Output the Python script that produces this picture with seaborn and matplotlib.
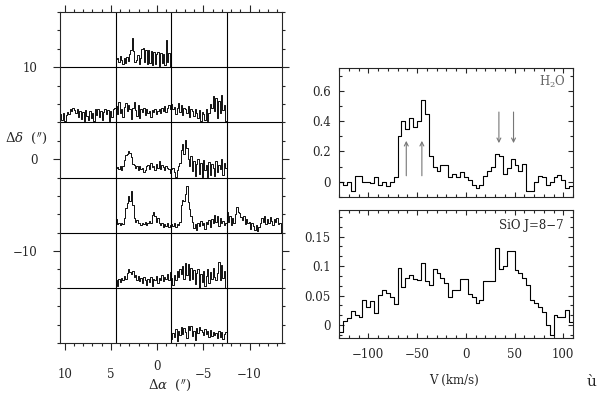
"""
Water maser / SiO spectra figure: offset map of spectra (left) and
averaged H2O and SiO J=8-7 profiles (right).
"""

import numpy as np
import matplotlib
matplotlib.use('Agg')
import matplotlib.pyplot as plt
import matplotlib.transforms as mtransforms
from matplotlib.ticker import MultipleLocator, FixedLocator, FuncFormatter
import seaborn as sns

# ── Data: averaged spectra ─────────────────────────────────────────────────────
VEL_EDGES = np.arange(-130, 111, 4)          # channel edges (km/s), 60 channels

H2O_T = [0.00, -0.02, 0.00, -0.06, 0.04, 0.04, 0.00, 0.00, -0.01, 0.03,
         -0.02, 0.00, -0.03, 0.00, 0.03, 0.30, 0.40, 0.35, 0.42, 0.36,
         0.40, 0.54, 0.45, 0.17, 0.10, 0.07, 0.11, 0.11, 0.03, 0.05,
         0.03, 0.065, 0.03, 0.015, -0.02, -0.04, -0.02, 0.04, 0.07, 0.10,
         0.185, 0.17, 0.05, 0.09, 0.15, 0.11, 0.07, 0.12, -0.06, -0.06,
         0.00, 0.04, 0.03, -0.02, 0.00, 0.03, 0.045, 0.015, -0.04, -0.03]

SIO_T = [-0.012, 0.006, 0.012, 0.023, 0.017, 0.014, 0.042, 0.031, 0.040, 0.021,
         0.051, 0.059, 0.054, 0.047, 0.036, 0.096, 0.065, 0.079, 0.085, 0.078,
         0.076, 0.105, 0.074, 0.068, 0.095, 0.088, 0.079, 0.071, 0.048, 0.059,
         0.059, 0.078, 0.078, 0.053, 0.048, 0.038, 0.042, 0.074, 0.074, 0.074,
         0.130, 0.095, 0.100, 0.125, 0.125, 0.093, 0.088, 0.079, 0.067, 0.042,
         0.037, 0.030, 0.022, 0.000, -0.017, 0.017, 0.014, 0.014, 0.025, 0.005]

# maser velocity markers (km/s) and arrow extents
ARROW_UP_V    = [-61, -45]
ARROW_UP_Y    = (0.04, 0.27)
ARROW_DOWN_V  = [34, 49]
ARROW_DOWN_Y  = (0.46, 0.255)

# ── Data: spectral map ─────────────────────────────────────────────────────────
CELL_RA   = [7.5, 1.5, -4.5, -10.5]          # cell centres, arcsec
CELL_DEC  = [13, 7, 1, -5, -11, -17]
CELL_SIZE = 6
DEC_TICKS = [10, 0, -10]

# intensities in arcsec above the cell floor
SPEC_R1_C2 = [0.9, 1.0, 0.6, 1.2, 0.8, 0.4, 1.0, 0.5, 1.1, 0.7, 1.4, 1.9, 3.2, 1.8,
              0.6, 0.8, 1.3, 0.4, 1.0, 2.0, 2.1, 0.6, 1.9, 0.3, 1.9, 0.5, 1.8, 0.2,
              1.7, 0.3, 1.4, 1.6, 0.1, 1.5, 0.5, 1.4, 0.2, 3.0, 0.6, 1.5, 0.0]
SPEC_R2_C1 = [0.9, 0.3, 1.0, 0.2, 0.8, 1.1, 0.9, 1.5, 1.2, 1.6, 1.3, 1.0, 1.4, 0.6,
              1.2, 0.4, 1.1, 0.2, 1.3, 0.7, 0.3, 1.2, 0.5, 1.0, 0.2, 1.4, 0.8, 1.5,
              0.6, 1.2, 0.3, 1.1, 1.5, 0.9, 1.3, 0.2, 1.2, 0.6, 1.4, 1.6]
SPEC_R2_C2 = [1.8, 0.9, 2.2, 1.0, 1.4, 0.6, 1.7, 2.1, 1.2, 1.9, 1.5, 0.4, 1.6, 2.2,
              1.3, 0.7, 1.9, 0.5, 1.5, 1.1, 1.6, 0.8, 1.4, 1.0, 1.2, 0.6, 1.3, 1.1,
              1.5, 0.9, 1.2, 1.4, 1.0, 1.6, 1.2, 1.8, 1.1, 1.6, 1.9, 1.4]
SPEC_R2_C3 = [2.0, 1.5, 1.7, 0.9, 1.6, 2.1, 1.1, 1.9, 0.8, 1.6, 1.4, 1.0, 1.8, 0.6,
              1.5, 1.2, 0.7, 1.4, 1.0, 0.5, 1.3, 0.2, 1.1, 0.9, 0.3, 1.5, 0.2, 1.0,
              2.0, 1.6, 2.9, 1.2, 2.7, 0.5, 2.3, 1.0, 3.0, 1.3, 1.9, 0.2]
SPEC_R3_C2 = [1.0, 1.1, 0.9, 1.2, 0.8, 1.3, 1.9, 2.4, 2.6, 2.9, 2.7, 2.2, 1.5, 1.4,
              1.0, 1.3, 0.8, 1.2, 0.9, 1.0, 0.6, 0.8, 1.2, 1.4, 0.9, 1.6, 1.1, 1.3,
              0.8, 1.5, 1.0, 1.8, 0.9, 1.4, 1.1, 0.8, 1.3, 1.0, 0.9, 0.5]
SPEC_R3_C3 = [0.9, 1.0, 0.6, 0.1, 0.8, 1.2, 1.6, 3.0, 3.6, 2.6, 4.1, 3.2, 2.0, 1.3,
              2.3, 0.7, 1.8, 0.2, 1.5, 2.0, 0.4, 1.6, 0.1, 1.9, 0.8, 1.4, 0.1, 1.7,
              0.3, 1.5, 1.0, 0.2, 1.8, 0.6, 1.4, 0.9, 2.0, 0.3, 1.6, 1.0]
SPEC_R4_C2 = [1.5, 0.9, 1.0, 0.8, 1.1, 0.9, 1.6, 2.7, 3.2, 4.0, 3.4, 4.5, 3.0, 1.6,
              1.2, 1.4, 1.0, 1.1, 0.8, 1.0, 0.9, 1.2, 0.8, 1.1, 1.3, 1.0, 1.9, 2.2,
              1.8, 1.2, 1.6, 1.0, 0.8, 1.1, 0.6, 0.9, 0.7, 1.0, 0.6, 0.8]
SPEC_R4_C3 = [0.9, 0.7, 1.0, 0.6, 0.9, 0.8, 1.2, 3.0, 3.6, 3.4, 4.2, 5.1, 3.3, 2.6,
              1.8, 1.2, 0.5, 0.9, 0.3, 1.1, 0.7, 1.3, 0.8, 1.0, 0.4, 1.2, 0.9, 1.4,
              0.6, 1.5, 1.0, 1.9, 1.2, 1.8, 0.7, 1.6, 1.1, 1.3, 0.8, 1.0]
SPEC_R4_C4 = [2.3, 1.2, 1.8, 0.8, 1.6, 1.0, 2.0, 2.8, 2.3, 2.1, 1.7, 1.4, 1.8, 0.9,
              1.5, 1.0, 1.2, 0.4, 1.1, 0.7, 0.3, 0.8, 0.2, 0.6, 1.0, 1.6, 1.2, 1.8,
              0.9, 1.5, 1.1, 1.7, 1.3, 0.8, 1.5, 1.2, 1.6, 0.9, 1.0, 0.0]
SPEC_R5_C2 = [0.8, 0.2, 1.0, 0.6, 1.1, 0.9, 1.3, 1.0, 1.6, 2.0, 1.7, 1.5, 1.8, 1.2,
              1.4, 0.9, 1.3, 0.7, 1.1, 0.5, 1.2, 0.8, 0.3, 1.0, 0.6, 1.2, 0.2, 1.0,
              0.8, 1.3, 0.5, 1.1, 0.9, 1.4, 0.7, 1.2, 1.0, 1.5, 0.9, 1.7]
SPEC_R5_C3 = [1.1, 0.3, 1.4, 0.9, 1.8, 1.2, 2.0, 1.5, 2.4, 1.0, 2.7, 1.4, 2.6, 0.8,
              2.2, 1.0, 1.9, 0.4, 1.6, 2.1, 0.0, 1.5, 0.6, 1.8, 0.2, 1.3, 2.0, 0.5,
              1.7, 1.0, 2.2, 1.2, 0.8, 1.6, 2.8, 0.9, 2.5, 1.1, 1.8, 0.0]
SPEC_R6_C3 = [0.4, 1.1, 0.6, 1.5, 0.2, 1.3, 0.9, 1.7, 1.0, 1.6, 1.2, 0.5, 1.8, 1.4,
              1.9, 0.8, 1.3, 0.3, 1.6, 1.1, 1.7, 1.4, 1.2, 0.9, 1.5, 1.0, 1.3, 0.6,
              1.4, 0.8, 1.2, 0.9, 1.1, 0.5, 1.3, 0.7, 1.2, 0.4, 1.0, 1.2]

# (row, column) of each observed position, 0-based
MAP_CELLS = [(0, 1, SPEC_R1_C2),
             (1, 0, SPEC_R2_C1), (1, 1, SPEC_R2_C2), (1, 2, SPEC_R2_C3),
             (2, 1, SPEC_R3_C2), (2, 2, SPEC_R3_C3),
             (3, 1, SPEC_R4_C2), (3, 2, SPEC_R4_C3), (3, 3, SPEC_R4_C4),
             (4, 1, SPEC_R5_C2), (4, 2, SPEC_R5_C3),
             (5, 2, SPEC_R6_C3)]

# ── Style ──────────────────────────────────────────────────────────────────────
sns.set_style('ticks')
plt.rcParams['font.family'] = ['DejaVu Serif']
plt.rcParams['mathtext.fontset'] = 'dejavuserif'
plt.rcParams['axes.linewidth'] = 0.8
FS = 8.5
LW = 0.8

fmt = FuncFormatter(lambda v, pos: f'{v:g}'.replace('-', '\u2212'))
# zero on the map's RA axis is written separately, a little raised
fmt_ra = FuncFormatter(lambda v, pos: '' if abs(v) < 1e-9
                       else f'{v:g}'.replace('-', '\u2212'))


def step_plot(ax, edges, values, lw=LW):
    y = np.append(values, values[-1])
    sns.lineplot(x=edges, y=y, ax=ax, sort=False, estimator=None,
                 drawstyle='steps-post', color='black', lw=lw)


fig = plt.figure(figsize=(6, 3.93), dpi=100)

# ── Left: spectral map ────────────────────────────────────────────────────────
axm = fig.add_axes([0.1, 0.1272, 0.37, 0.8422])
half = CELL_SIZE / 2
for row, col, spec in MAP_CELLS:
    spec = np.asarray(spec)
    left = CELL_RA[col] + half
    base = CELL_DEC[row] - half
    xe = left - np.linspace(0, CELL_SIZE, len(spec) + 1)
    step_plot(axm, xe, base + spec, lw=0.65)

for ra in CELL_RA[1:]:
    axm.axvline(ra + half, color='black', lw=LW, zorder=1)
for dec in CELL_DEC[1:]:
    axm.axhline(dec + half, color='black', lw=LW, zorder=1)

axm.set_xlim(CELL_RA[0] + half, CELL_RA[-1] - half)
axm.set_ylim(CELL_DEC[-1] - half, CELL_DEC[0] + half)
axm.xaxis.set_major_locator(MultipleLocator(5))
axm.xaxis.set_minor_locator(MultipleLocator(1))
axm.yaxis.set_major_locator(FixedLocator(DEC_TICKS))
axm.yaxis.set_minor_locator(MultipleLocator(2))
axm.xaxis.set_major_formatter(fmt_ra)
axm.yaxis.set_major_formatter(fmt)
axm.tick_params(which='both', direction='out', top=True, right=True,
                labelsize=FS, width=0.8)
axm.tick_params(which='major', length=5)
axm.tick_params(which='minor', length=2.5)
axm.tick_params(axis='y', which='major', pad=11)
axm.tick_params(axis='x', which='major', pad=13)
zero_tr = mtransforms.blended_transform_factory(axm.transData, axm.transAxes)
axm.text(0, -0.07, '0', transform=zero_tr, fontsize=FS,
         ha='center', va='center')
axm.set_xlabel(r'$\Delta\alpha$  ($^{\prime\prime}$)', fontsize=FS + 1)
axm.xaxis.set_label_coords(0.495, -0.126)
axm.xaxis.label.set_va('center')
axm.set_ylabel('')
fig.text(5 / 600, 1 - 138 / 393, r'$\Delta\delta$  ($^{\prime\prime}$)',
         fontsize=FS + 1, ha='left', va='center')

# ── Right: averaged spectra ────────────────────────────────────────────────────
axh = fig.add_axes([0.565, 0.4987, 0.39, 0.3282])
axs = fig.add_axes([0.565, 0.14, 0.39, 0.3257])

step_plot(axh, VEL_EDGES, H2O_T)
step_plot(axs, VEL_EDGES, SIO_T)

arrow_kw = dict(arrowstyle='->', color='#777777', lw=0.8,
                shrinkA=0, shrinkB=0, mutation_scale=7)
for v in ARROW_UP_V:
    axh.annotate('', xy=(v, ARROW_UP_Y[1]), xytext=(v, ARROW_UP_Y[0]),
                 arrowprops=arrow_kw)
for v in ARROW_DOWN_V:
    axh.annotate('', xy=(v, ARROW_DOWN_Y[1]), xytext=(v, ARROW_DOWN_Y[0]),
                 arrowprops=arrow_kw)

for ax in (axh, axs):
    ax.set_xlim(VEL_EDGES[0], VEL_EDGES[-1])
    ax.xaxis.set_major_locator(MultipleLocator(50))
    ax.xaxis.set_minor_locator(MultipleLocator(10))
    ax.xaxis.set_major_formatter(fmt)
    ax.yaxis.set_major_formatter(fmt)
    ax.tick_params(which='both', direction='in', top=True, right=True,
                   labelsize=FS, width=0.8)
    ax.tick_params(which='major', length=3.6)
    ax.tick_params(which='minor', length=2)
    ax.tick_params(axis='y', which='major', pad=6)
    ax.tick_params(axis='x', which='major', pad=7)
    ax.set_ylabel('')

axh.set_ylim(-0.1, 0.75)
axh.yaxis.set_major_locator(MultipleLocator(0.2))
axh.yaxis.set_minor_locator(MultipleLocator(0.1))
axh.tick_params(labelbottom=False)
axh.set_xlabel('')
axh.text(0.97, 0.89, r'H$_2$O', transform=axh.transAxes, ha='right',
         va='center', fontsize=FS, color='#666666')

axs.set_ylim(-0.022, 0.195)
axs.yaxis.set_major_locator(MultipleLocator(0.05))
axs.yaxis.set_minor_locator(MultipleLocator(0.05 / 3))
axs.set_xlabel('V (km/s)', fontsize=FS)
axs.xaxis.set_label_coords(0.49, -0.328)
axs.xaxis.label.set_va('center')
axs.text(0.96, 0.88, 'SiO J=8\u22127', transform=axs.transAxes, ha='right',
         va='center', fontsize=FS)

fig.text(592 / 600, 1 - 382 / 393, '\u00f9', fontsize=11,
         ha='center', va='center')

fig.savefig('out.png', dpi=100)
